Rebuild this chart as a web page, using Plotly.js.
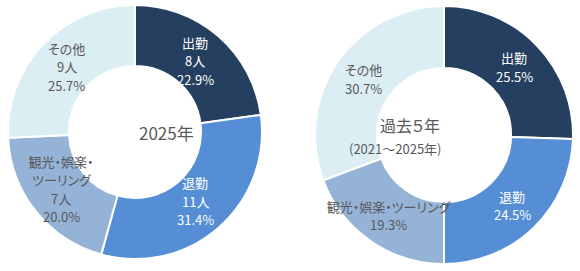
<!DOCTYPE html>
<html>
<head>
<meta charset="utf-8">
<script src="https://cdn.plot.ly/plotly-3.0.1.min.js"></script>
<style>
html,body{margin:0;padding:0;background:#fff;}
#chart{width:580px;height:271px;}
#chart text{font-feature-settings:"palt" 1;}
</style>
</head>
<body>
<div id="chart"></div>
<script>
var categories = ["出勤", "退勤", "観光・娯楽・ツーリング", "その他"];
var labels2025 = [["出勤"], ["退勤"], ["観光・娯楽・", "ツーリング"], ["その他"]];
var counts2025 = [8, 11, 7, 9];
var share5yr = [25.5, 24.5, 19.3, 30.7];
var colors = ["#243F60", "#558ED5", "#95B3D7", "#DBEEF4"];
var textColors = ["#FFFFFF", "#FFFFFF", "#595959", "#595959"];
var centerLeft = "2025年";
var centerRight1 = "過去５年";
var centerRight2 = "(2021～2025年)";

var W = 580, H = 271;
function dom(x0, x1, yTop, yBot) {
  return {x: [x0 / W, x1 / W], y: [1 - yBot / H, 1 - yTop / H]};
}
var font = "Noto Sans CJK JP, sans-serif";

var t1 = {
  type: "pie", hole: 0.52, sort: false, direction: "clockwise", rotation: 0,
  labels: categories, values: counts2025, textinfo: "none",
  marker: {colors: colors, line: {color: "#FFFFFF", width: 2}},
  domain: dom(8, 262, 5, 259), hoverinfo: "none", showlegend: false
};
var t2 = {
  type: "pie", hole: 0.52, sort: false, direction: "clockwise", rotation: 0,
  labels: categories, values: share5yr, textinfo: "none",
  marker: {colors: colors, line: {color: "#FFFFFF", width: 2}},
  domain: dom(315, 573, 5, 265), hoverinfo: "none", showlegend: false
};

// label placement: mid-angle of each slice, middle of the ring, one annotation per line
var LINE = 18.5;
function labelAnns(values, lines, cx, cy, r) {
  var total = values.reduce(function (a, b) { return a + b; }, 0);
  var cum = 0, out = [];
  values.forEach(function (v, i) {
    var mid = (cum + v / 2) / total * 2 * Math.PI;
    cum += v;
    var px = cx + r * Math.sin(mid), py = cy - r * Math.cos(mid);
    var n = lines[i].length;
    lines[i].forEach(function (s, k) {
      var ly = py + (k - (n - 1) / 2) * LINE;
      out.push({
        text: s, xref: "paper", yref: "paper", showarrow: false,
        x: px / W, y: 1 - ly / H, xanchor: "center", yanchor: "middle",
        font: {family: font, size: 13, color: textColors[i]}
      });
    });
  });
  return out;
}
var total2025 = counts2025.reduce(function (a, b) { return a + b; }, 0);
var leftLines = counts2025.map(function (v, i) {
  return labels2025[i].concat([v + "人", (v / total2025 * 100).toFixed(1) + "%"]);
});
var rightLines = share5yr.map(function (v, i) {
  return [categories[i], v.toFixed(1) + "%"];
});

var anns = labelAnns(counts2025, leftLines, 134, 131, 93)
  .concat(labelAnns(share5yr, rightLines, 444, 135, 98))
  .concat([
    {text: centerLeft, x: 137 / W, y: 1 - 132 / H, xref: "paper", yref: "paper", showarrow: false,
     font: {family: font, size: 17, color: "#595959"}},
    {text: centerRight1, x: 444 / W, y: 1 - 125 / H, xref: "paper", yref: "paper", showarrow: false,
     font: {family: font, size: 16, color: "#595959"}},
    {text: centerRight2, x: 444 / W, y: 1 - 148 / H, xref: "paper", yref: "paper", showarrow: false,
     font: {family: font, size: 13, color: "#595959"}}
  ]);

var layout = {
  width: W, height: H, margin: {l: 0, r: 0, t: 0, b: 0},
  paper_bgcolor: "#FFFFFF", showlegend: false,
  font: {family: font, color: "#595959"},
  annotations: anns
};
Plotly.newPlot("chart", [t1, t2], layout, {displayModeBar: false, staticPlot: true});
</script>
</body>
</html>
